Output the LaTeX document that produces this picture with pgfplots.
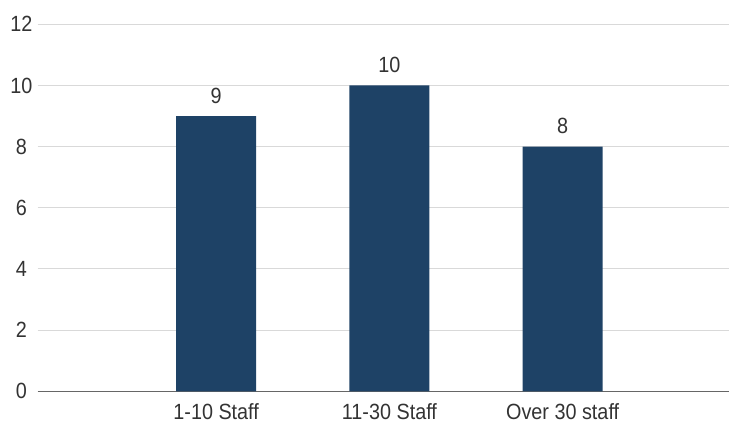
\documentclass[border=0pt]{standalone}
\usepackage{fontspec}
\setmainfont{Liberation Sans}[FakeStretch=0.9]
\usepackage{pgfplots}
\pgfplotsset{compat=1.18}

\definecolor{barblue}{HTML}{1E4266}
\definecolor{gridgray}{HTML}{D9D9D9}
\definecolor{basegray}{HTML}{666666}
\definecolor{labelgray}{HTML}{333333}

\begin{document}
\begin{tikzpicture}
\begin{axis}[
  at={(37.7bp,32.7bp)}, anchor=south west,
  scale only axis,
  width=691.3bp, height=367bp,
  xmin=-0.03, xmax=3.96,
  ymin=0, ymax=12,
  ytick={0,2,4,6,8,10,12},
  xtick={1,2,3},
  xticklabels={1-10 Staff, 11-30 Staff, Over 30 staff},
  axis line style={draw=none},
  major tick length=0pt,
  ymajorgrids,
  grid style={gridgray, line width=1bp},
  extra y ticks={0},
  extra y tick labels={},
  extra y tick style={grid style={basegray, line width=1.5bp}},
  /pgf/number format/assume math mode=true,
  tick label style={font=\fontsize{22bp}{26bp}\selectfont, text=labelgray},
  xticklabel style={yshift=-9bp},
  yticklabel style={anchor=center, xshift=-16.2bp},
  ybar,
  bar width=80bp,
  nodes near coords,
  every node near coord/.append style={font=\fontsize{22bp}{26bp}\selectfont, text=labelgray, yshift=9bp},
]
\addplot[fill=barblue, draw=none] coordinates {(1,9) (2,10) (3,8)};
\end{axis}
\pgfresetboundingbox
\path[use as bounding box] (0,0) rectangle (729bp,424bp);
\end{tikzpicture}
\end{document}
